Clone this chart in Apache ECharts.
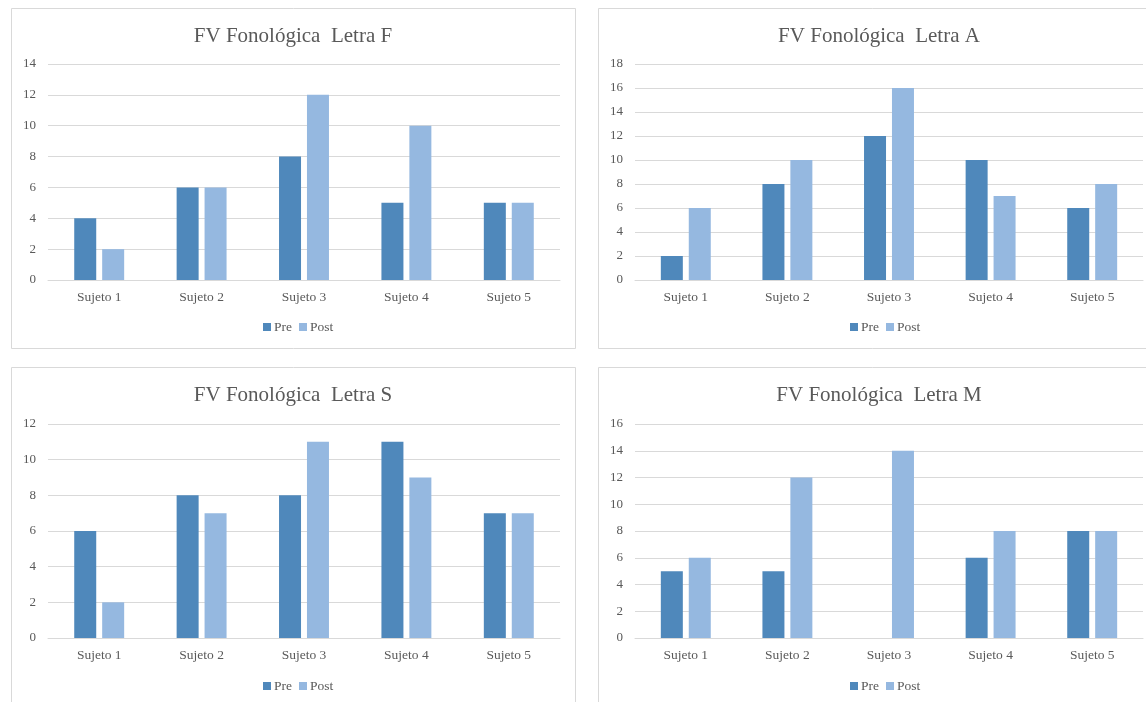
<!DOCTYPE html>
<html>
<head>
<meta charset="utf-8">
<script src="https://cdn.jsdelivr.net/npm/echarts@6/dist/echarts.min.js"></script>
<style>
  html, body { margin: 0; padding: 0; background: #fff; }
  #chart { width: 1146px; height: 702px; }
</style>
</head>
<body>
<div id="chart"></div>
<script>
// Subjects on the x axis
const categories = ['Sujeto 1', 'Sujeto 2', 'Sujeto 3', 'Sujeto 4', 'Sujeto 5'];
const seriesNames = ['Pre', 'Post'];

// Letter F
const preF = [4, 6, 8, 5, 5];
const postF = [2, 6, 12, 10, 5];
// Letter A
const preA = [2, 8, 12, 10, 6];
const postA = [6, 10, 16, 7, 8];
// Letter S
const preS = [6, 8, 8, 11, 7];
const postS = [2, 7, 11, 9, 7];
// Letter M
const preM = [5, 5, 0, 6, 8];
const postM = [6, 12, 14, 8, 8];

const titles = ['FV Fonológica  Letra F', 'FV Fonológica  Letra A', 'FV Fonológica  Letra S', 'FV Fonológica  Letra M'];
const yMax = [14, 18, 12, 16];

const panels = [
  { title: titles[0], pre: preF, post: postF, max: yMax[0] },
  { title: titles[1], pre: preA, post: postA, max: yMax[1] },
  { title: titles[2], pre: preS, post: postS, max: yMax[2] },
  { title: titles[3], pre: preM, post: postM, max: yMax[3] }
];

// Layout of each panel: frame box, plot area, title/legend centres
const layout = [
  { box: [11.5, 8.5, 564, 340], grid: { left: 48, top: 64, width: 512, height: 216 }, cx: 294, titleX: 288, titleTop: 21, legendTop: 315 },
  { box: [598.5, 8.5, 600, 340], grid: { left: 635, top: 64, width: 508, height: 216 }, cx: 881, titleX: 874, titleTop: 21, legendTop: 315 },
  { box: [11.5, 367.5, 564, 400], grid: { left: 48, top: 424, width: 512, height: 214 }, cx: 294, titleX: 288, titleTop: 380, legendTop: 674 },
  { box: [598.5, 367.5, 600, 400], grid: { left: 635, top: 424, width: 508, height: 214 }, cx: 881, titleX: 874, titleTop: 380, legendTop: 674 }
];

const FONT = '"Liberation Serif", "Times New Roman", serif';
const TEXT = '#595959';
const LINE = '#d9d9d9';
const PRE_COLOR = '#4f88bb';
const POST_COLOR = '#95b8e0';

const option = {
  animation: false,
  backgroundColor: '#fff',
  textStyle: { fontFamily: FONT },
  graphic: layout.map(l => ({
    type: 'rect',
    shape: { x: l.box[0], y: l.box[1], width: l.box[2], height: l.box[3] },
    style: { fill: 'none', stroke: LINE, lineWidth: 1 },
    z: -1
  })),
  title: panels.map((p, i) => ({
    text: p.title,
    left: layout[i].titleX,
    top: layout[i].titleTop,
    textAlign: 'center',
    textStyle: { fontFamily: FONT, fontSize: 21, fontWeight: 'normal', color: TEXT }
  })),
  legend: panels.map((p, i) => ({
    data: seriesNames,
    left: layout[i].cx - 36,
    top: layout[i].legendTop,
    itemWidth: 8,
    itemHeight: 8,
    itemGap: 7,
    icon: 'rect',
    selectedMode: false,
    textStyle: { fontFamily: FONT, fontSize: 13.5, color: TEXT, padding: [0, 0, 0, -2] }
  })),
  grid: layout.map(l => Object.assign({ containLabel: false }, l.grid)),
  xAxis: panels.map((p, i) => ({
    type: 'category',
    gridIndex: i,
    data: categories,
    axisTick: { show: false },
    axisLine: { lineStyle: { color: LINE, width: 1 } },
    axisLabel: { fontFamily: FONT, fontSize: 13.5, color: TEXT, margin: 10 }
  })),
  yAxis: panels.map((p, i) => ({
    type: 'value',
    gridIndex: i,
    min: 0,
    max: p.max,
    interval: 2,
    axisLine: { show: false },
    axisTick: { show: false },
    splitLine: { lineStyle: { color: LINE, width: 1 } },
    axisLabel: { fontFamily: FONT, fontSize: 13, color: TEXT, margin: 12 }
  })),
  series: panels.flatMap((p, i) => [
    {
      name: 'Pre', type: 'bar', xAxisIndex: i, yAxisIndex: i,
      data: p.pre, barWidth: 22, barGap: '27%',
      itemStyle: { color: PRE_COLOR }
    },
    {
      name: 'Post', type: 'bar', xAxisIndex: i, yAxisIndex: i,
      data: p.post, barWidth: 22, barGap: '27%',
      itemStyle: { color: POST_COLOR }
    }
  ])
};

echarts.init(document.getElementById('chart')).setOption(option);
</script>
</body>
</html>
